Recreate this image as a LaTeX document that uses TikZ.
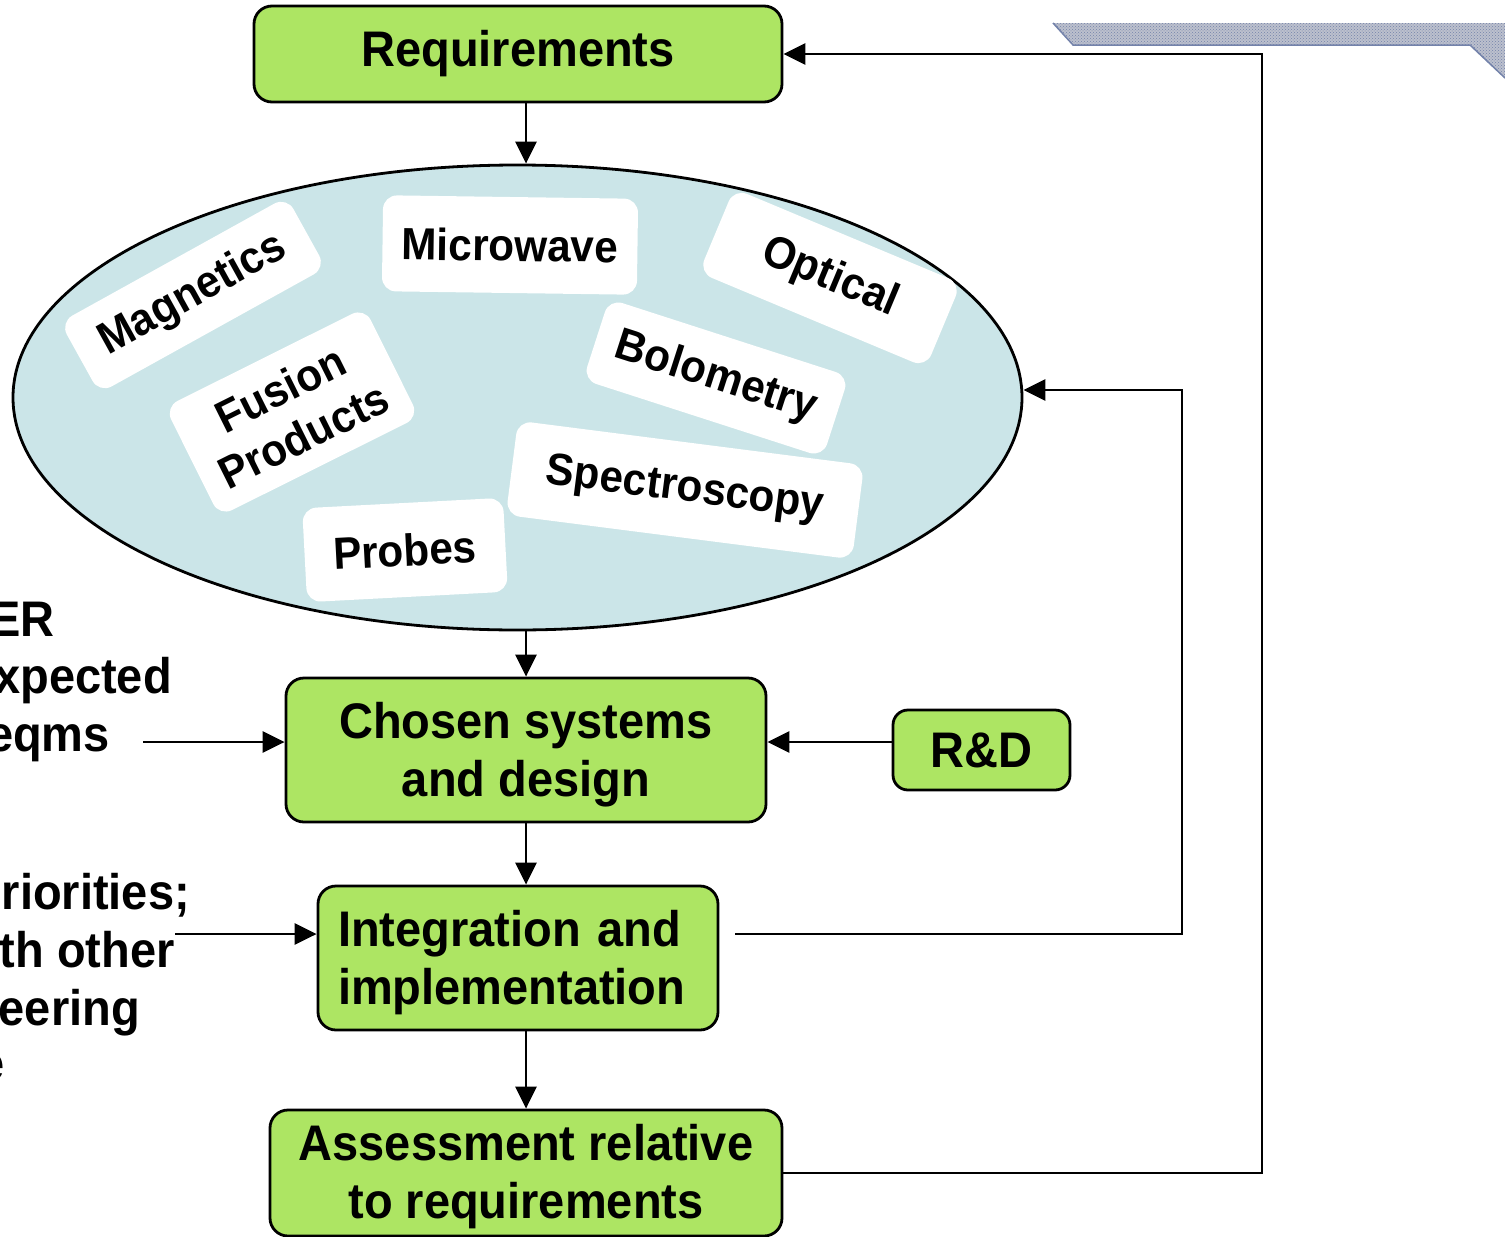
\documentclass[tikz,border=0pt]{standalone}
\usepackage{fontspec}
\setmainfont{Liberation Sans}[FakeStretch=0.94]
\usetikzlibrary{arrows.meta,shapes.geometric,patterns}

\definecolor{boxgreen}{RGB}{173,229,99}
\definecolor{poolblue}{RGB}{203,229,232}
\definecolor{barblue}{RGB}{115,130,170}
\definecolor{bargray}{RGB}{188,192,205}

\begin{document}
\begin{tikzpicture}[x=1pt,y=-1pt,
  stagebox/.style={draw=black, line width=2.8pt, fill=boxgreen, rounded corners=18pt,
    font=\fontsize{50}{58}\selectfont\bfseries, align=center, inner sep=0pt},
  tagbox/.style={fill=white, rounded corners=14pt,
    font=\fontsize{45}{52}\selectfont\bfseries, align=center, inner sep=0pt},
  flow/.style={line width=2.8pt, -{Triangle[length=22pt,width=21pt]}},
  sidetext/.style={font=\fontsize{50}{58}\selectfont\bfseries, anchor=base east, inner sep=0pt}
]
\useasboundingbox (0,0) rectangle (1505,1237);

% decorative bar, top right
\fill[bargray] (1053,23) -- (1505,23) -- (1505,78) -- (1470,45) -- (1073,45) -- cycle;
\fill[pattern=crosshatch dots, pattern color=barblue]
  (1053,23) -- (1505,23) -- (1505,78) -- (1470,45) -- (1073,45) -- cycle;
\draw[barblue, line width=1.5pt] (1053,23) -- (1073,45) -- (1470,45) -- (1505,78);

% main stages
\node[stagebox, minimum width=528pt, minimum height=96pt] (req) at (518,54) {Requirements};
\node[ellipse, draw=black, line width=2.8pt, fill=poolblue, minimum width=1009pt,
  minimum height=465pt, inner sep=0pt] (pool) at (517.5,397.5) {};
\node[stagebox, minimum width=480pt, minimum height=144pt] (chosen) at (526,750)
  {\rule{0pt}{46pt}Chosen systems\\and design};
\node[stagebox, minimum width=400pt, minimum height=144pt, text width=360pt, align=left]
  (integ) at (518,958) {\rule{0pt}{46pt}Integration and\\implementation};
\node[stagebox, minimum width=512pt, minimum height=126pt] (assess) at (526,1173)
  {\rule{0pt}{44pt}Assessment relative\\to requirements};
\node[stagebox, rounded corners=15pt, minimum width=177pt, minimum height=80pt] (rd)
  at (981.5,750) {R\&D};

% diagnostic families inside the pool
\node[tagbox, rotate=29, minimum width=259pt, minimum height=81pt] (mag) at (193,295) {Magnetics};
\node[tagbox, rotate=-0.8, minimum width=255pt, minimum height=96pt] (micro) at (510,245) {Microwave};
\node[tagbox, rotate=-22.7, minimum width=246pt, minimum height=91pt] (opt) at (830,278) {Optical};
\node[tagbox, rotate=-17.9, minimum width=252pt, minimum height=85pt] (bolo) at (716,378) {Bolometry};
\node[tagbox, rotate=-7.3, minimum width=349pt, minimum height=95pt] (spec) at (685,490) {Spectroscopy};
\node[tagbox, rotate=26.5, minimum width=223pt, minimum height=122pt] (fus) at (292,412) {Fusion\\Products};
\node[tagbox, rotate=3, minimum width=201pt, minimum height=94pt] (probes) at (405,550) {Probes};

% side inputs on the left
\node[sidetext] (sa1) at (55,636) {ER};
\node[sidetext] (sa2) at (172,693) {xpected};
\node[sidetext] (sa3) at (110,751) {eqms};
\node[sidetext] (sb1) at (190,909) {riorities;};
\node[sidetext] (sb2) at (175,967) {th other};
\node[sidetext] (sb3) at (140,1025) {eering};
\node[sidetext] (sb4) at (5,1080) {e};

% connector anchor points
\coordinate (spine) at (526,0);
\coordinate (inA) at (143,742);
\coordinate (inB) at (175,934);
\coordinate (loopA) at (735,934);
\coordinate (rjoin) at (1182,390);
\coordinate (ljoin) at (1262,0);

% main flow
\draw[flow] (req.south -| spine) -- (pool.north -| spine);
\draw[flow] (pool.south -| spine) -- (chosen.north -| spine);
\draw[flow] (chosen.south -| spine) -- (integ.north -| spine);
\draw[flow] (integ.south -| spine) -- (assess.north -| spine);

% inputs
\draw[flow] (inA) -- (inA -| chosen.west);
\draw[flow] (inB) -- (inB -| integ.west);
\draw[flow] (rd.west |- inA) -- (chosen.east |- inA);

% feedback loops
\draw[flow] (loopA) -- (loopA -| rjoin) -- (rjoin) -- (rjoin -| pool.east);
\draw[flow] (assess.east) -- (assess.east -| ljoin) -- (req.east -| ljoin) -- (req.east);
\end{tikzpicture}
\end{document}
